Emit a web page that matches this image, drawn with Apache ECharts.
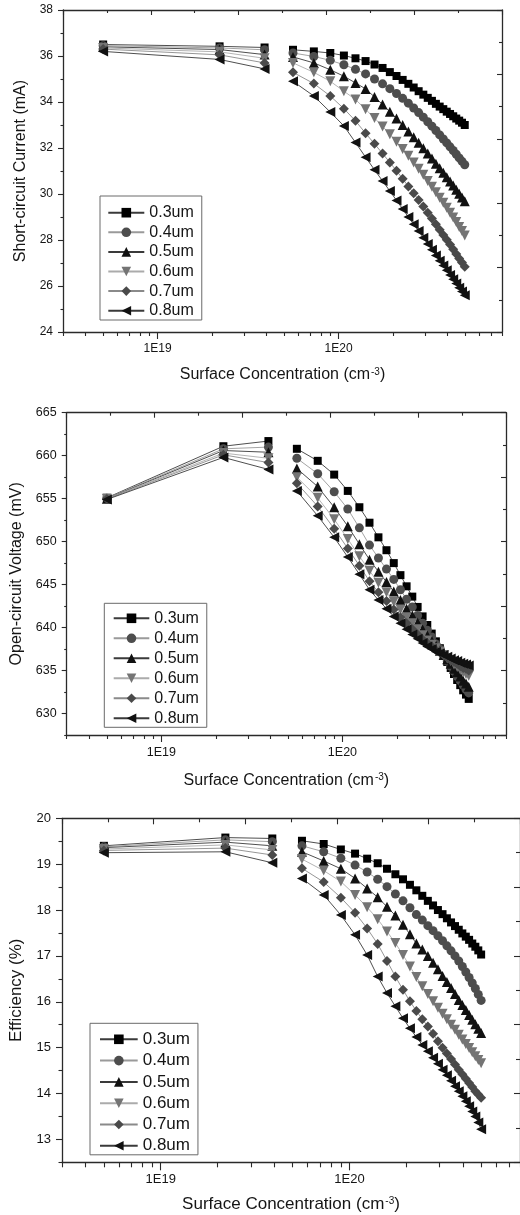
<!DOCTYPE html>
<html><head><meta charset="utf-8">
<script src="https://cdn.jsdelivr.net/npm/echarts@6/dist/echarts.min.js"></script>
<style>html,body{margin:0;padding:0;background:#fff}#c{width:520px;height:1215px}</style>
</head><body><div id="c"></div>
<script>
// ---------------- data ----------------
const conc = [5e18, 2.2e19, 3.9e19, 5.6e19, 7.3e19, 9.0e19, 1.07e20, 1.24e20, 1.41e20, 1.58e20,
  1.75e20, 1.92e20, 2.09e20, 2.26e20, 2.43e20, 2.60e20, 2.77e20, 2.94e20, 3.11e20, 3.28e20,
  3.45e20, 3.62e20, 3.79e20, 3.96e20, 4.13e20, 4.30e20, 4.47e20, 4.64e20, 4.81e20, 4.98e20];
const gapAfterIndex = 2; // lines are not joined between the 3rd and 4th concentration
const seriesNames = ['0.3um', '0.4um', '0.5um', '0.6um', '0.7um', '0.8um'];

const jsc03 = [36.50,36.42,36.37,36.27,36.20,36.13,36.02,35.90,35.78,35.63,35.48,35.30,35.13,34.96,34.79,34.63,34.47,34.32,34.18,34.05,33.92,33.80,33.69,33.58,33.48,33.38,33.28,33.19,33.10,33.00];
const jsc04 = [36.45,36.35,36.27,36.13,35.98,35.81,35.62,35.42,35.22,35.00,34.79,34.58,34.37,34.16,33.95,33.74,33.54,33.34,33.14,32.95,32.76,32.57,32.39,32.22,32.05,31.89,31.73,31.57,31.42,31.27];
const jsc05 = [36.40,36.28,36.06,35.96,35.70,35.40,35.12,34.83,34.57,34.22,33.89,33.58,33.28,33.00,32.72,32.47,32.23,31.99,31.76,31.54,31.32,31.12,30.92,30.73,30.54,30.37,30.19,30.01,29.85,29.68];
const jsc06 = [36.35,36.18,35.90,35.70,35.29,34.90,34.47,34.11,33.68,33.30,32.94,32.60,32.27,31.96,31.66,31.37,31.10,30.84,30.57,30.32,30.08,29.84,29.62,29.40,29.19,28.98,28.78,28.57,28.39,28.20];
const jsc07 = [36.30,36.05,35.70,35.29,34.80,34.26,33.71,33.18,32.64,32.18,31.76,31.37,31.01,30.66,30.33,30.03,29.74,29.46,29.19,28.94,28.69,28.45,28.22,28.01,27.80,27.60,27.39,27.20,27.02,26.84];
const jsc08 = [36.20,35.85,35.44,34.90,34.26,33.56,32.96,32.24,31.60,31.05,30.57,30.13,29.72,29.35,29.00,28.68,28.39,28.10,27.83,27.58,27.33,27.10,26.89,26.68,26.48,26.29,26.11,25.92,25.76,25.60];

const voc03 = [655.1,661.1,661.7,660.8,659.4,657.8,655.9,654.0,652.2,650.5,649.0,647.5,646.1,644.8,643.6,642.4,641.3,640.3,639.3,638.4,637.6,636.8,636.0,635.3,634.6,633.9,633.3,632.7,632.2,631.7];
const voc04 = [655.05,660.8,661.0,659.7,657.9,655.8,653.8,651.6,649.6,648.1,646.8,645.6,644.4,643.3,642.4,641.4,640.5,639.7,638.9,638.1,637.5,636.8,636.1,635.5,634.9,634.3,633.8,633.3,632.8,632.4];
const voc05 = [655.0,660.6,660.4,658.5,656.4,654.0,651.8,649.7,647.9,646.5,645.3,644.2,643.2,642.2,641.4,640.6,639.8,639.1,638.5,637.9,637.3,636.8,636.3,635.8,635.2,634.8,634.3,633.8,633.5,633.1];
const voc06 = [655.0,660.3,659.7,657.5,655.1,652.6,650.3,648.3,646.6,645.2,644.1,643.0,642.1,641.2,640.5,639.8,639.1,638.5,638.0,637.6,637.2,636.8,636.4,636.1,635.7,635.4,635.1,634.8,634.6,634.4];
const voc07 = [654.95,660.1,659.2,656.8,654.1,651.5,649.2,647.2,645.4,644.1,643.1,642.1,641.2,640.5,639.8,639.2,638.6,638.2,637.8,637.4,637.1,636.8,636.5,636.2,636.0,635.8,635.5,635.3,635.2,635.0];
const voc08 = [654.9,659.8,658.4,655.9,653.0,650.5,648.2,646.2,644.4,643.2,642.2,641.3,640.5,639.8,639.2,638.7,638.2,637.8,637.5,637.2,637.0,636.8,636.6,636.4,636.2,636.1,635.9,635.8,635.7,635.6];

const eff03 = [19.40,19.58,19.56,19.51,19.44,19.32,19.23,19.12,19.02,18.90,18.78,18.67,18.55,18.43,18.31,18.20,18.10,18.00,17.91,17.82,17.73,17.65,17.57,17.49,17.42,17.35,17.27,17.20,17.12,17.03];
const eff04 = [19.38,19.53,19.49,19.40,19.27,19.13,18.98,18.83,18.67,18.51,18.35,18.20,18.05,17.90,17.78,17.66,17.55,17.44,17.33,17.22,17.11,17.00,16.89,16.77,16.65,16.53,16.41,16.29,16.16,16.03];
const eff05 = [19.36,19.48,19.40,19.27,19.07,18.90,18.69,18.47,18.28,18.07,17.88,17.68,17.47,17.27,17.14,17.00,16.85,16.71,16.56,16.43,16.30,16.17,16.04,15.93,15.82,15.71,15.61,15.51,15.41,15.32];
const eff06 = [19.33,19.42,19.31,19.11,18.86,18.62,18.33,18.06,17.80,17.53,17.28,17.02,16.77,16.54,16.34,16.17,16.01,15.87,15.74,15.62,15.50,15.39,15.28,15.18,15.08,14.99,14.90,14.81,14.73,14.66];
const eff07 = [19.30,19.35,19.20,18.91,18.61,18.27,17.94,17.60,17.26,16.89,16.55,16.26,16.01,15.80,15.62,15.46,15.30,15.14,15.00,14.87,14.75,14.63,14.52,14.42,14.32,14.23,14.14,14.05,13.98,13.91];
const eff08 = [19.25,19.27,19.03,18.69,18.33,17.89,17.46,17.02,16.55,16.19,15.90,15.64,15.42,15.23,15.06,14.92,14.78,14.65,14.52,14.40,14.28,14.16,14.05,13.94,13.83,13.72,13.61,13.50,13.37,13.22];

// tick values
const jscTicks = [24, 26, 28, 30, 32, 34, 36, 38];
const jscMinor = [25, 27, 29, 31, 33, 35, 37];
const vocTicks = [630, 635, 640, 645, 650, 655, 660, 665];
const vocMinor = [627.5, 632.5, 637.5, 642.5, 647.5, 652.5, 657.5, 662.5];
const effTicks = [13, 14, 15, 16, 17, 18, 19, 20];
const effMinor = [12.5, 13.5, 14.5, 15.5, 16.5, 17.5, 18.5, 19.5];
const concMajor = [1e19, 1e20];
const concMinor = [3e18, 4e18, 5e18, 6e18, 7e18, 8e18, 9e18, 2e19, 3e19, 4e19, 5e19, 6e19, 7e19, 8e19, 9e19,
  2e20, 3e20, 4e20, 5e20, 6e20, 7e20, 8e20];
const concMin = 3e18, concMax = 8e20;

// ---------------- styles ----------------
const FONT = 'Arial, "Liberation Sans", Helvetica, sans-serif';
const TXT = '#151515';
const AXC = '#2a2a2a';
const symbols = ['rect', 'circle', 'triangle', 'triangle', 'diamond', 'triangle'];
const symRot = [0, 0, 0, 180, 0, 90];
const symSize = [8, 9, 10, 10, 10, 10];
const fillCol = ['#000000', '#4d4d4d', '#111111', '#747474', '#4a4a4a', '#111111'];
const lineCol = ['#3a3a3a', '#9a9a9a', '#3a3a3a', '#ababab', '#8a8a8a', '#3a3a3a'];

const panels = [
  { box: { left: 63, top: 10, width: 439, height: 322 }, ymin: 24, ymax: 38, ticks: jscTicks, minor: jscMinor,
    yName: 'Short-circuit Current (mA)', vals: [jsc03, jsc04, jsc05, jsc06, jsc07, jsc08],
    fs: 12, nfs: 16, yGap: 33, xGap: 35, xLabMargin: 11, yLabMargin: 10, tickL: 5, rtick: 5,
    leg: { left: 100, top: 196, fs: 16, gap: 3.6, iw: 36, pad: [8.7, 8, 1.3, 7.3] } },
  { box: { left: 66.7, top: 412.7, width: 439.3, height: 322.3 }, ymin: 627.5, ymax: 665, ticks: vocTicks, minor: vocMinor,
    yName: 'Open-circuit Voltage (mV)', vals: [voc03, voc04, voc05, voc06, voc07, voc08],
    fs: 12.5, nfs: 16, yGap: 41, xGap: 37.5, xLabMargin: 11, yLabMargin: 10, tickL: 5, rtick: 5,
    leg: { left: 104.3, top: 603.3, fs: 16, gap: 4, iw: 35.6, pad: [7, 8, 1, 8.4] } },
  { box: { left: 52.3, top: 818.3, width: 470.3, height: 344 }, ymin: 12.5, ymax: 20, ticks: effTicks, minor: effMinor,
    yName: 'Efficiency (%)', vals: [eff03, eff04, eff05, eff06, eff07, eff08],
    fs: 13, nfs: 17, yGap: 37, xGap: 33.5, xLabMargin: 11, yLabMargin: 11, tickL: 6, rtick: 6,
    leg: { left: 90, top: 1023.3, fs: 17, gap: 4.3, iw: 37.7, pad: [7.5, 8, 0.5, 9] } }
];

function pts(vals) {
  const out = [];
  conc.forEach((c, i) => {
    out.push([c, vals[i]]);
    if (i === gapAfterIndex) out.push([c, '-']);
  });
  return out;
}

const grid = [], xAxis = [], yAxis = [], series = [], legend = [];
panels.forEach((p, pi) => {
  grid.push(Object.assign({}, p.box));
  const ls = { color: AXC, width: 1.3 };
  const tls = { color: AXC, width: 1.1 };
  const xBase = xAxis.length, yBase = yAxis.length;
  // main log x axis (carries data)
  xAxis.push({
    type: 'log', logBase: 10, gridIndex: pi, position: 'bottom', min: concMin, max: concMax,
    axisLine: { show: true, onZero: false, lineStyle: ls }, axisTick: { show: false }, axisLabel: { show: false },
    splitLine: { show: false },
    name: 'Surface Concentration (cm{s|-3})', nameLocation: 'middle', nameGap: p.xGap,
    nameTextStyle: { fontFamily: FONT, fontSize: p.nfs, color: TXT,
      rich: { s: { fontFamily: FONT, fontSize: Math.round(p.nfs * 0.6), color: TXT, verticalAlign: 'top', padding: [0, 0, 0, 1] } } }
  });
  // major decade ticks + labels (log10 space)
  xAxis.push({
    type: 'value', gridIndex: pi, position: 'bottom', min: Math.log10(concMin), max: Math.log10(concMax),
    axisLine: { show: false, onZero: false },
    axisTick: { show: true, length: p.tickL + 2, lineStyle: tls, customValues: concMajor.map(Math.log10) },
    axisLabel: { show: true, customValues: concMajor.map(Math.log10), margin: p.xLabMargin,
      formatter: v => '1E' + Math.round(v), fontFamily: FONT, fontSize: p.fs, color: TXT },
    splitLine: { show: false }
  });
  // minor ticks
  xAxis.push({
    type: 'value', gridIndex: pi, position: 'bottom', min: Math.log10(concMin), max: Math.log10(concMax),
    axisLine: { show: false, onZero: false },
    axisTick: { show: true, length: p.tickL - 1, lineStyle: tls, customValues: concMinor.map(Math.log10) },
    axisLabel: { show: false }, splitLine: { show: false }
  });
  // top frame axis
  xAxis.push({
    type: 'value', gridIndex: pi, position: 'top', min: 0, max: 10, interval: 2,
    axisLine: { show: true, onZero: false, lineStyle: ls },
    axisTick: { show: true, inside: true, length: p.rtick, lineStyle: tls },
    minorTick: { show: true, splitNumber: 2, length: p.rtick - 2, lineStyle: tls },
    axisLabel: { show: false }, splitLine: { show: false }
  });
  // main y
  yAxis.push({
    type: 'value', gridIndex: pi, position: 'left', min: p.ymin, max: p.ymax,
    axisLine: { show: true, onZero: false, lineStyle: ls },
    axisTick: { show: true, length: p.tickL, lineStyle: tls, customValues: p.ticks },
    axisLabel: { show: true, customValues: p.ticks, margin: p.yLabMargin, fontFamily: FONT, fontSize: p.fs, color: TXT },
    splitLine: { show: false },
    name: p.yName, nameLocation: 'middle', nameGap: p.yGap,
    nameTextStyle: { fontFamily: FONT, fontSize: p.nfs, color: TXT }
  });
  yAxis.push({
    type: 'value', gridIndex: pi, position: 'left', min: p.ymin, max: p.ymax,
    axisLine: { show: false, onZero: false },
    axisTick: { show: true, length: p.tickL - 2.5, lineStyle: tls, customValues: p.minor },
    axisLabel: { show: false }, splitLine: { show: false }
  });
  yAxis.push({
    type: 'value', gridIndex: pi, position: 'right', min: 0, max: 10, interval: 2,
    axisLine: { show: true, onZero: false, lineStyle: ls },
    axisTick: { show: true, inside: true, length: p.rtick, lineStyle: tls },
    minorTick: { show: true, splitNumber: 2, length: p.rtick - 2, lineStyle: tls },
    axisLabel: { show: false }, splitLine: { show: false }
  });
  seriesNames.forEach((nm, si) => {
    series.push({
      type: 'line', name: nm, xAxisIndex: xBase, yAxisIndex: yBase,
      data: pts(p.vals[si]), connectNulls: false,
      symbol: symbols[si], symbolRotate: symRot[si], symbolSize: symSize[si], showSymbol: true,
      itemStyle: { color: fillCol[si] },
      lineStyle: { color: lineCol[si], width: 0.9 },
      emphasis: { disabled: true }, z: 2 + si
    });
  });
  legend.push({
    data: seriesNames, orient: 'vertical', left: p.leg.left, top: p.leg.top,
    itemWidth: p.leg.iw, itemHeight: 12, itemGap: p.leg.gap, padding: p.leg.pad,
    borderColor: '#6a6a6a', borderWidth: 1, backgroundColor: '#ffffff', selectedMode: false,
    textStyle: { fontFamily: FONT, fontSize: p.leg.fs, color: TXT }
  });
});

const chart = echarts.init(document.getElementById('c'), null, { renderer: 'canvas' });
chart.setOption({ animation: false, backgroundColor: '#ffffff', grid, xAxis, yAxis, series, legend });
</script>
</body></html>
